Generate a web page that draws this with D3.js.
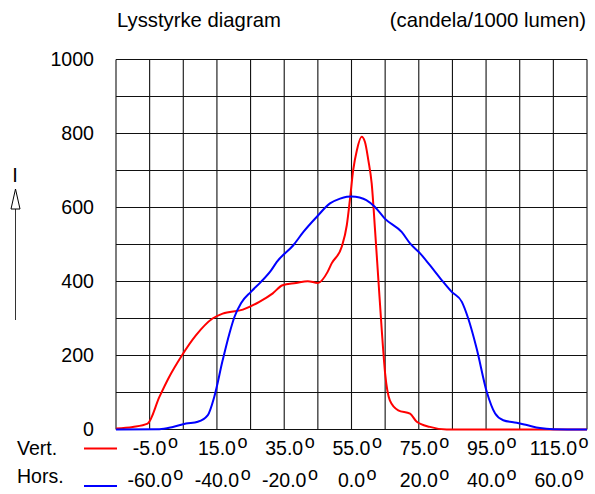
<!DOCTYPE html>
<html lang="en">

<head>
    <meta charset="UTF-8">
    <title>Lysstyrke diagram</title>
    <style>
        body { margin: 0; background: #fff; }
        svg text { font-family: Arial, "Liberation Sans", sans-serif; fill: #000; }
    </style>
</head>

<body>
    <svg id="chart" width="595" height="494"></svg>
    <script src="https://d3js.org/d3.v7.min.js"></script>
    <script>
        // Vertical plane (red) - angle in degrees, candela/1000 lumen
        const vertAngles = [-15, -10, -5.6, -2.1, 0.8, 4.3, 8.8, 13.7, 16.7, 22.7, 27.6, 31.6, 34.5, 38.5, 42, 45,
            47.9, 49.1, 52.1, 53.6, 54.6, 55.5, 56.6, 58, 59, 60, 61, 62, 63, 64, 65, 66.4, 68.9, 72.4, 74.4,
            78.3, 83.3, 125];
        const vertValues = [3, 7, 16, 88, 142, 196, 255, 300, 313, 324, 345, 368, 390, 396, 401, 396,
            426, 449, 494, 552, 627, 701, 755, 791, 777, 728, 665, 539, 403, 268, 151, 79, 52, 43, 21,
            7, 0, 0];

        // Horizontal plane (blue)
        const horsAngles = [-70, -57.1, -53.1, -49.2, -45.7, -42.7, -40.8, -38.3, -36.3, -34.8, -32.8, -29.9,
            -26.9, -23.9, -22.2, -17.3, -14.3, -10.3, -6.4, -3.4, -1.4, 0, 2.4, 4.4, 6.9, 9.9, 14.9, 17.4,
            20.4, 23.3, 26.8, 29.8, 32.8, 34.7, 37.2, 40.2, 42.7, 45.1, 49.1, 52.1, 56, 60, 70];
        const horsValues = [0, 1, 7, 16, 21, 39, 88, 187, 259, 304, 342, 372,
            399, 430, 453, 498, 534, 575, 611, 624, 629, 630, 627, 620, 602, 570, 534, 503,
            476, 444, 404, 372, 345, 300, 219, 102, 43, 25, 18, 12, 4, 1, 0];

        // Tick labels
        const yTicks = [0, 200, 400, 600, 800, 1000];
        const vertTicks = [-5, 15, 35, 55, 75, 95, 115];
        const horsTicks = [-60, -40, -20, 0, 20, 40, 60];

        const svg = d3.select("#chart");

        const plotLeft = 116, plotRight = 587, plotTop = 59.5, plotBottom = 429.5;

        const xVert = d3.scaleLinear().domain([-15, 125]).range([plotLeft, plotRight]);
        const xHors = d3.scaleLinear().domain([-70, 70]).range([plotLeft, plotRight]);
        const y = d3.scaleLinear().domain([0, 1000]).range([plotBottom, plotTop]);

        // Grid
        const grid = svg.append("g").attr("stroke", "#111").attr("stroke-width", 1.1);
        grid.selectAll(".vgrid")
            .data(d3.range(-15, 126, 10))
            .enter().append("line")
            .attr("x1", d => xVert(d)).attr("x2", d => xVert(d))
            .attr("y1", plotTop).attr("y2", plotBottom);
        grid.selectAll(".hgrid")
            .data(d3.range(0, 1001, 100))
            .enter().append("line")
            .attr("x1", plotLeft).attr("x2", plotRight)
            .attr("y1", d => y(d)).attr("y2", d => y(d));

        // Curves
        const vertLine = d3.line()
            .x((d, i) => xVert(vertAngles[i]))
            .y(d => y(d))
            .curve(d3.curveMonotoneX);
        const horsLine = d3.line()
            .x((d, i) => xHors(horsAngles[i]))
            .y(d => y(d))
            .curve(d3.curveMonotoneX);

        svg.append("path")
            .attr("d", vertLine(vertValues))
            .attr("fill", "none")
            .attr("stroke", "#ff0000")
            .attr("stroke-width", 2);
        svg.append("path")
            .attr("d", horsLine(horsValues))
            .attr("fill", "none")
            .attr("stroke", "#0000ff")
            .attr("stroke-width", 2);

        // Y tick labels
        svg.selectAll(".ylab")
            .data(yTicks)
            .enter().append("text")
            .attr("x", 94)
            .attr("y", d => y(d))
            .attr("dy", "0.35em")
            .attr("text-anchor", "end")
            .attr("font-size", 19.6)
            .text(d => d);

        // X tick labels with degree "o"
        function degreeRow(ticks, scale, baseline) {
            ticks.forEach(t => {
                const num = svg.append("text")
                    .attr("x", scale(t))
                    .attr("y", baseline)
                    .attr("text-anchor", "middle")
                    .attr("font-size", 19.5)
                    .text(t.toFixed(1));
                const w = num.node().getComputedTextLength();
                svg.append("text")
                    .attr("x", scale(t) + w / 2 + 1.5)
                    .attr("y", baseline - 7)
                    .attr("font-size", 18)
                    .text("o");
            });
        }
        degreeRow(vertTicks, xVert, 455);
        degreeRow(horsTicks, xHors, 487);

        // Legend
        svg.append("text").attr("x", 17).attr("y", 455).attr("font-size", 19.5).text("Vert.");
        svg.append("text").attr("x", 17).attr("y", 483).attr("font-size", 19.5).text("Hors.");
        svg.append("line").attr("x1", 84).attr("x2", 117).attr("y1", 448.5).attr("y2", 448.5)
            .attr("stroke", "#ff0000").attr("stroke-width", 2);
        svg.append("line").attr("x1", 84).attr("x2", 117).attr("y1", 486).attr("y2", 486)
            .attr("stroke", "#0000ff").attr("stroke-width", 2);

        // Title texts
        svg.append("text").attr("x", 117).attr("y", 27).attr("font-size", 20.3).text("Lysstyrke diagram");
        svg.append("text").attr("x", 586).attr("y", 27).attr("font-size", 20.3)
            .attr("text-anchor", "end").text("(candela/1000 lumen)");

        // "I" axis arrow
        svg.append("text").attr("x", 15).attr("y", 182).attr("font-size", 20)
            .attr("text-anchor", "middle").text("I");
        svg.append("line").attr("x1", 15.5).attr("x2", 15.5).attr("y1", 320).attr("y2", 209)
            .attr("stroke", "#333").attr("stroke-width", 1);
        svg.append("path")
            .attr("d", "M11,209 L20,209 L15.5,189 Z")
            .attr("fill", "#fff")
            .attr("stroke", "#000")
            .attr("stroke-width", 1);
    </script>
</body>

</html>
